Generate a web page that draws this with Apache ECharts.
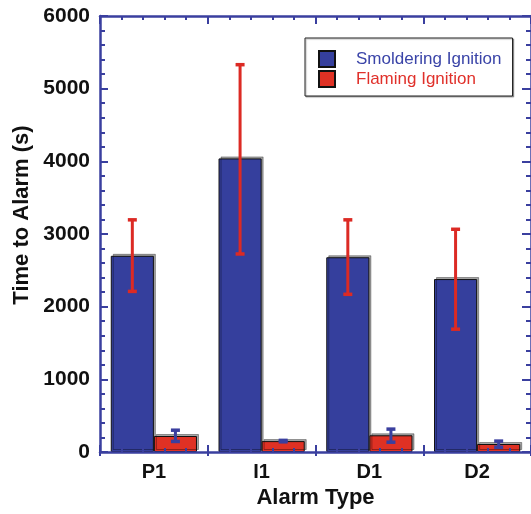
<!DOCTYPE html>
<html>
<head>
<meta charset="utf-8">
<script src="https://cdn.jsdelivr.net/npm/echarts@6/dist/echarts.min.js"></script>
<style>html,body{margin:0;padding:0;background:#fff;}#c{width:531px;height:514px;}</style>
</head>
<body>
<div id="c"></div>
<script>
const categories = ['P1', 'I1', 'D1', 'D2'];
const smolderingMean = [2700, 4040, 2680, 2380];
const smolderingLow = [2210, 2725, 2170, 1690];
const smolderingHigh = [3195, 5330, 3195, 3065];
const flamingMean = [220, 150, 230, 110];
const flamingLow = [145, 140, 135, 65];
const flamingHigh = [300, 160, 315, 150];
const yTicks = [0, 1000, 2000, 3000, 4000, 5000, 6000];
const yTitle = 'Time to Alarm (s)';
const xTitle = 'Alarm Type';

const AX = '#3a3f9f';
const BLUE = '#353f9d';
const RED = '#df3124';
const FONT = 'Liberation Sans';

const chart = echarts.init(document.getElementById('c'), null, {renderer: 'canvas'});

function errSeries(name, low, high, color, side) {
  return {
    type: 'custom', name: name, z: 10,
    xAxisIndex: 0, yAxisIndex: 0,
    data: categories.map((c, i) => [i, low[i], high[i]]),
    renderItem: function (params, api) {
      const band = api.size([1, 0])[0];
      const off = side * band * 0.2;
      const pLow = api.coord([api.value(0), api.value(1)]);
      const pHigh = api.coord([api.value(0), api.value(2)]);
      const x = pLow[0] + off;
      const cw = 9, ch = 3.5;
      return {
        type: 'group',
        children: [
          {type: 'line', shape: {x1: x, y1: pHigh[1], x2: x, y2: pLow[1]}, style: {stroke: color, lineWidth: 3}},
          {type: 'rect', shape: {x: x - cw / 2, y: pHigh[1] - ch / 2, width: cw, height: ch}, style: {fill: color}},
          {type: 'rect', shape: {x: x - cw / 2, y: pLow[1] - ch / 2, width: cw, height: ch}, style: {fill: color}}
        ]
      };
    }
  };
}

const tickValAxis = (pos, inside, len, minorLen, showLine) => ({
  type: 'value', position: pos, min: 0, max: 4, interval: 1, z: 6,
  axisLine: {show: showLine, onZero: false, lineStyle: {color: AX, width: 2.5}},
  axisTick: {show: true, inside: inside, length: len, lineStyle: {color: AX, width: 2}},
  minorTick: {show: minorLen > 0, splitNumber: 5, length: minorLen, lineStyle: {color: AX, width: 2}},
  axisLabel: {show: false}, splitLine: {show: false}, minorSplitLine: {show: false}
});

const barItem = (color) => ({
  color: color, borderColor: '#111', borderWidth: 1,
  shadowColor: 'rgba(0,0,0,0.35)', shadowOffsetX: 2, shadowOffsetY: -2, shadowBlur: 0
});

chart.setOption({
  animation: false,
  backgroundColor: '#fff',
  textStyle: {fontFamily: FONT},
  grid: {left: 100, top: 16, width: 437, height: 436, containLabel: false},
  graphic: [{
    type: 'text', x: 22, y: 215, rotation: Math.PI / 2, z: 20,
    style: {text: yTitle, fill: '#111', font: 'bold 22px "Liberation Sans"', align: 'center', verticalAlign: 'middle'}
  }],
  legend: {
    orient: 'vertical', left: 305, top: 38,
    padding: [12, 11, 8, 13], itemGap: 2,
    itemWidth: 16, itemHeight: 16, icon: 'rect',
    backgroundColor: '#fff', borderColor: '#222', borderWidth: 1,
    shadowColor: 'rgba(0,0,0,0.3)', shadowOffsetX: 1, shadowOffsetY: 1, shadowBlur: 1,
    textStyle: {fontFamily: FONT, fontSize: 17, padding: [0, 0, 0, 16]},
    data: [
      {name: 'Smoldering Ignition', textStyle: {color: '#3a44a8'}},
      {name: 'Flaming Ignition', textStyle: {color: '#e0302a'}}
    ]
  },
  xAxis: [
    {
      type: 'category', data: categories, position: 'bottom', z: 6,
      axisLine: {show: true, onZero: false, lineStyle: {color: AX, width: 2.5}},
      axisTick: {show: false},
      axisLabel: {color: '#111', fontFamily: FONT, fontWeight: 'bold', fontSize: 20, margin: 10},
      name: xTitle, nameLocation: 'middle', nameGap: 33,
      nameTextStyle: {color: '#111', fontFamily: FONT, fontWeight: 'bold', fontSize: 22}
    },
    tickValAxis('bottom', true, 7, 4, false),
    tickValAxis('bottom', false, 4, 0, false),
    tickValAxis('top', true, 8, 4, true)
  ],
  yAxis: [
    {
      type: 'value', position: 'left', min: 0, max: 6000, interval: 1000, z: 6,
      axisLine: {show: true, onZero: false, lineStyle: {color: AX, width: 2.5}},
      axisTick: {show: true, inside: true, length: 8, lineStyle: {color: AX, width: 2}},
      minorTick: {show: true, splitNumber: 5, length: 5, lineStyle: {color: AX, width: 2}},
      splitLine: {show: false}, minorSplitLine: {show: false},
      axisLabel: {color: '#111', fontFamily: FONT, fontWeight: 'bold', fontSize: 21, margin: 10,
        formatter: (v) => yTicks.indexOf(v) >= 0 ? String(v) : ''}
    },
    {
      type: 'value', position: 'right', min: 0, max: 6000, interval: 1000, z: 6,
      axisLine: {show: true, onZero: false, lineStyle: {color: AX, width: 2.5}},
      axisTick: {show: true, inside: true, length: 9, lineStyle: {color: AX, width: 2}},
      minorTick: {show: true, splitNumber: 5, length: 5, lineStyle: {color: AX, width: 2}},
      splitLine: {show: false}, minorSplitLine: {show: false},
      axisLabel: {show: false}
    }
  ],
  series: [
    {type: 'bar', name: 'Smoldering Ignition', data: smolderingMean, xAxisIndex: 0, yAxisIndex: 0,
      barGap: '0%', barCategoryGap: '20%', itemStyle: barItem(BLUE), z: 2},
    {type: 'bar', name: 'Flaming Ignition', data: flamingMean, xAxisIndex: 0, yAxisIndex: 0,
      barGap: '0%', barCategoryGap: '20%', itemStyle: barItem(RED), z: 2},
    errSeries('errS', smolderingLow, smolderingHigh, '#dc2a24', -1),
    errSeries('errF', flamingLow, flamingHigh, AX, 1)
  ]
});
</script>
</body>
</html>
